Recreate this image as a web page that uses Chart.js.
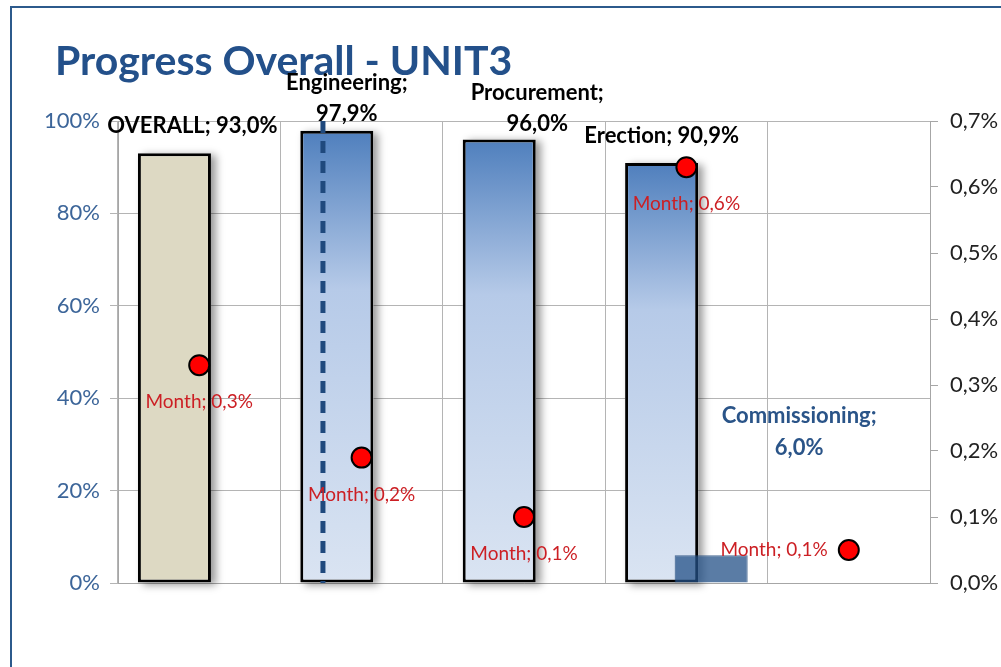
<!DOCTYPE html>
<html lang="en">
<head>
  <meta charset="UTF-8">
  <title>Progress Overall - UNIT3</title>
  <script src="https://cdn.jsdelivr.net/npm/chart.js"></script>
  <style>
    html, body { margin: 0; padding: 0; background: #fff; }
    #wrap { width: 1001px; height: 667px; position: relative; }
  </style>
</head>
<body>
  <div id="wrap">
    <canvas id="progressChart" width="1001" height="667"></canvas>
  </div>

  <script>
    var categories = ["OVERALL", "Engineering", "Procurement", "Erection", "Commissioning"];
    var progress = [93.0, 97.9, 96.0, 90.9, null];
    var commissioning = [null, null, null, 6.0, null];
    var monthly = [0.33, 0.19, 0.10, 0.63, 0.05];
    var leftTicks = [0, 20, 40, 60, 80, 100];
    var rightTicks = [0, 0.1, 0.2, 0.3, 0.4, 0.5, 0.6, 0.7];

    var FONT = "Lato, 'Open Sans', sans-serif";

    function pct(v) {
      return v.toFixed(1).replace(".", ",") + "%";
    }

    // label positions relative to the bar top (Excel labels were moved by hand)
    var barLabelPos = [
      { dx: 18, dy: -27, lines: 1 },
      { dx: 10, dy: -48, lines: 2 },
      { dx: 38, dy: -47, lines: 2 },
      { dx: 0, dy: -27, lines: 1 }
    ];

    function barGradient(context) {
      var chart = context.chart;
      var y = chart.scales.y;
      if (!chart.chartArea || !y || context.raw == null) return "#4f81bd";
      if (context.dataIndex === 0) return "#ddd9c3";
      var top = y.getPixelForValue(context.raw);
      var bottom = y.getPixelForValue(0);
      var g = chart.ctx.createLinearGradient(0, top, 0, bottom);
      g.addColorStop(0, "#4f7fbd");
      g.addColorStop(0.35, "#b6cae8");
      g.addColorStop(1, "#dae4f2");
      return g;
    }

    var PROGRESS = 1, COMM = 2, MONTH = 0;

    var decorations = {
      id: "decorations",
      beforeDraw: function (chart) {
        var ctx = chart.ctx;
        ctx.save();
        ctx.strokeStyle = "#2c5a8c";
        ctx.lineWidth = 2;
        ctx.strokeRect(11, 7, 1100, 1100);
        ctx.fillStyle = "#23508a";
        ctx.font = "bold 41px " + FONT;
        ctx.textBaseline = "middle";
        ctx.textAlign = "left";
        ctx.fillText("Progress Overall - UNIT3", 55, 62);
        ctx.restore();
      },
      beforeDatasetDraw: function (chart, args) {
        // commissioning bar is drawn later, on top of the progress bars
        if (args.index === COMM) return false;
        if (args.index === PROGRESS) {
          var ctx = chart.ctx;
          ctx.save();
          ctx.shadowColor = "rgba(0,0,0,0.4)";
          ctx.shadowBlur = 8;
          ctx.shadowOffsetX = 5;
          ctx.shadowOffsetY = 2;
          ctx.fillStyle = "#fff";
          chart.getDatasetMeta(PROGRESS).data.forEach(function (el, i) {
            if (progress[i] == null) return;
            ctx.fillRect(el.x - el.width / 2, el.y, el.width, el.base - el.y);
          });
          ctx.restore();
        }
      },
      afterDatasetDraw: function (chart, args) {
        var ctx = chart.ctx;
        if (args.index === PROGRESS) {
          // dashed line inside the Engineering bar
          var bar = chart.getDatasetMeta(PROGRESS).data[1];
          var y = chart.scales.y;
          ctx.save();
          ctx.strokeStyle = "#1f497d";
          ctx.lineWidth = 5;
          ctx.setLineDash([12, 8]);
          ctx.beginPath();
          ctx.moveTo(bar.x - bar.width * 0.19, y.getPixelForValue(100));
          ctx.lineTo(bar.x - bar.width * 0.19, y.getPixelForValue(0));
          ctx.stroke();
          ctx.restore();
          chart.getDatasetMeta(COMM).data.forEach(function (el, i) {
            if (commissioning[i] != null) el.draw(ctx);
          });
        }
      },
      afterDatasetsDraw: function (chart) {
        var ctx = chart.ctx;
        ctx.save();
        ctx.textAlign = "center";
        ctx.textBaseline = "middle";

        // category labels on the progress bars
        ctx.font = "bold 22px " + FONT;
        ctx.fillStyle = "#000";
        chart.getDatasetMeta(PROGRESS).data.forEach(function (bar, i) {
          if (progress[i] == null) return;
          var p = barLabelPos[i];
          var x = bar.x + p.dx;
          var y = bar.y + p.dy;
          if (p.lines === 2) {
            ctx.fillText(categories[i] + ";", x, y);
            ctx.fillText(pct(progress[i]), x, y + 31);
          } else {
            ctx.fillText(categories[i] + "; " + pct(progress[i]), x, y);
          }
        });

        // commissioning label
        var cb = chart.getDatasetMeta(COMM).data[3];
        ctx.fillStyle = "#2a5488";
        ctx.fillText(categories[4] + ";", cb.x + 88, chart.scales.y.getPixelForValue(36.2));
        ctx.fillText(pct(commissioning[3]), cb.x + 88, chart.scales.y.getPixelForValue(29.3));

        // month labels
        ctx.font = "19px " + FONT;
        ctx.fillStyle = "#cc1f24";
        chart.getDatasetMeta(MONTH).data.forEach(function (pt, i) {
          var text = "Month; " + pct(monthly[i]);
          if (i === monthly.length - 1) {
            ctx.textAlign = "right";
            ctx.fillText(text, pt.x - 21, pt.y);
          } else {
            ctx.textAlign = "center";
            ctx.fillText(text, pt.x, pt.y + 37);
          }
        });
        ctx.restore();
      }
    };

    var ctx1 = document.getElementById("progressChart").getContext("2d");
    var progressChart = new Chart(ctx1, {
      data: {
        labels: categories,
        datasets: [
          {
            type: "line",
            label: "Month",
            data: monthly,
            yAxisID: "y2",
            showLine: false,
            pointRadius: 10,
            pointBackgroundColor: "#ff0000",
            pointBorderColor: "#000",
            pointBorderWidth: 2,
            order: 0
          },
          {
            type: "bar",
            label: "Progress",
            data: progress,
            yAxisID: "y",
            backgroundColor: barGradient,
            borderColor: "#000",
            borderWidth: 3,
            borderSkipped: false,
            categoryPercentage: 0.61,
            barPercentage: 1.475,
            order: 1
          },
          {
            type: "bar",
            label: "Commissioning",
            data: commissioning,
            yAxisID: "y",
            backgroundColor: "rgba(35,80,135,0.75)",
            borderColor: "rgba(30,70,120,0.8)",
            borderWidth: 1,
            categoryPercentage: 0.61,
            barPercentage: 1.475,
            order: 2
          }
        ]
      },
      options: {
        responsive: false,
        animation: false,
        layout: { padding: { left: 20, right: 0, top: 121, bottom: 0 } },
        plugins: {
          legend: { display: false },
          tooltip: { enabled: false }
        },
        scales: {
          x: {
            offset: true,
            ticks: { display: false },
            grid: { display: true, offset: true, color: "#b4b4b4", lineWidth: 1, drawTicks: false },
            border: { color: "#a6a6a6" },
            afterFit: function (s) { s.height = 84; }
          },
          y: {
            position: "left",
            min: 0,
            max: 100,
            afterBuildTicks: function (s) { s.ticks = leftTicks.map(function (v) { return { value: v }; }); },
            ticks: {
              color: "#3c6599",
              font: { family: FONT, size: 22 },
              padding: 10,
              callback: function (v) { return v + "%"; }
            },
            grid: { color: "#b4b4b4", tickLength: 8, drawTicks: true },
            border: { color: "#a6a6a6" },
            afterFit: function (s) { s.width = 98; }
          },
          y2: {
            position: "right",
            min: 0,
            max: 0.7,
            afterBuildTicks: function (s) { s.ticks = rightTicks.map(function (v) { return { value: v }; }); },
            ticks: {
              color: "#222",
              font: { family: FONT, size: 22 },
              padding: 12,
              callback: function (v) { return pct(v); }
            },
            grid: { drawOnChartArea: false, color: "#a6a6a6", tickLength: 8 },
            border: { color: "#a6a6a6" },
            afterFit: function (s) { s.width = 71; }
          }
        }
      },
      plugins: [decorations]
    });
  </script>
</body>
</html>
